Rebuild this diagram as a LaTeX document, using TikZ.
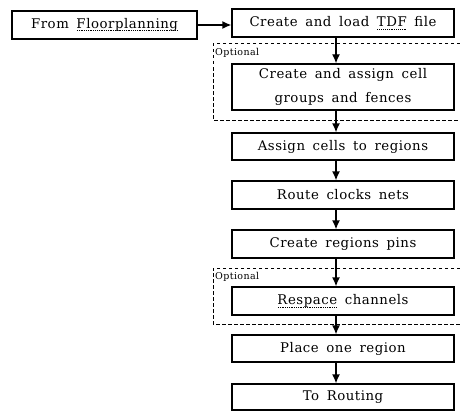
\documentclass[tikz,border=0pt]{standalone}
\usepackage{fontspec}
\setmainfont{DejaVu Serif}[LetterSpace=4,WordSpace=1.6]
\usetikzlibrary{arrows.meta}
\newcommand{\dotul}[1]{\setbox0\hbox{#1}\rlap{\usebox0}\raisebox{-2.5pt}{\hbox to \wd0{\xleaders\hbox to 1.8pt{\hss\rule{0.9pt}{0.6pt}\hss}\hfill}}}
\tikzset{
  x=1pt,y=-1pt,
  flowbox/.style={draw,line width=1.3pt,minimum width=222pt,inner sep=0pt,align=center,
    font=\fontsize{13.3}{24}\selectfont},
  optbox/.style={draw,line width=1pt,dash pattern=on 3.5pt off 2.5pt},
  flow/.style={line width=1.3pt,-{Latex[length=9pt,width=8pt]}},
  optlabel/.style={anchor=north west,inner sep=0pt,font=\fontsize{9.5}{11}\selectfont}
}
\begin{document}
\begin{tikzpicture}
\useasboundingbox (0,0) rectangle (460,412);
% dashed optional regions (open on the right)
\draw[optbox] (460,44) -- (213,44) -- (213,120) -- (460,120);
\draw[optbox] (460,268) -- (213,268) -- (213,324) -- (460,324);
\node[optlabel] (opt1) at (215,48) {Optional};
\node[optlabel] (opt2) at (215,272) {Optional};
% boxes
\node[flowbox,minimum width=185pt,minimum height=28pt] (from) at (104.5,25) {From \dotul{Floorplanning}};
\node[flowbox,minimum height=28pt] (tdf) at (343,23) {Create and load \dotul{TDF} file};
\node[flowbox,minimum height=46pt] (cag) at (343,87) {Create and assign cell\\groups and fences};
\node[flowbox,minimum height=27pt] (acr) at (343,146.5) {Assign cells to regions};
\node[flowbox,minimum height=28pt] (rcn) at (343,195) {Route clocks nets};
\node[flowbox,minimum height=28pt] (crp) at (343,244) {Create regions pins};
\node[flowbox,minimum height=28pt] (rsc) at (343,301) {\dotul{Respace} channels};
\node[flowbox,minimum height=27pt] (por) at (343,348.5) {Place one region};
\node[flowbox,minimum height=26pt] (tr) at (343,397) {To Routing};
% connectors
\draw[flow] (from.east) -- (from.east -| tdf.west);
\draw[flow] ([xshift=-7pt]tdf.south) -- ([xshift=-7pt]cag.north);
\draw[flow] ([xshift=-7pt]cag.south) -- ([xshift=-7pt]acr.north);
\draw[flow] ([xshift=-7pt]acr.south) -- ([xshift=-7pt]rcn.north);
\draw[flow] ([xshift=-7pt]rcn.south) -- ([xshift=-7pt]crp.north);
\draw[flow] ([xshift=-7pt]crp.south) -- ([xshift=-7pt]rsc.north);
\draw[flow] ([xshift=-7pt]rsc.south) -- ([xshift=-7pt]por.north);
\draw[flow] ([xshift=-7pt]por.south) -- ([xshift=-7pt]tr.north);
\end{tikzpicture}
\end{document}
